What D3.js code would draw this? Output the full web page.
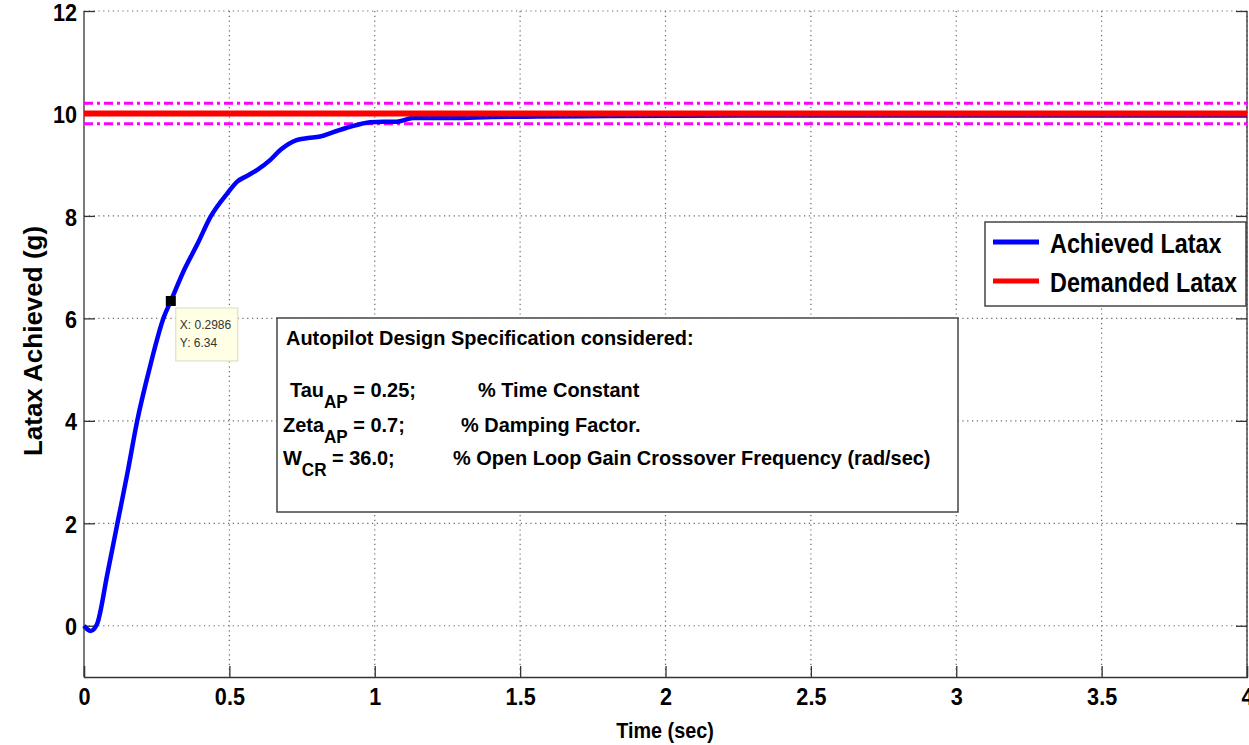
<!DOCTYPE html>
<html><head><meta charset="utf-8">
<script src="https://cdn.jsdelivr.net/npm/d3@7"></script>
<style>
body{margin:0;background:#fff;}
svg{display:block;}
text{font-family:"Liberation Sans",Arial,sans-serif;}
</style></head>
<body><svg id="c" width="1249" height="745"></svg>
<script>
// ---- data ----
const timeVals = [0, 0.012, 0.023, 0.035, 0.046, 0.08, 0.115, 0.15, 0.183, 0.224, 0.275, 0.2986, 0.344, 0.39, 0.436, 0.493, 0.527, 0.56, 0.596, 0.64, 0.676, 0.731, 0.77, 0.812, 0.86, 0.915, 0.984, 1.03, 1.075, 1.132, 1.2, 1.27, 1.4, 1.557, 1.8, 2.5, 3, 4];
const latax    = [0, -0.07, -0.1, -0.06, 0.05, 1.0, 2.0, 3.0, 4.0, 4.99, 6.03, 6.34, 6.94, 7.45, 7.99, 8.44, 8.67, 8.78, 8.90, 9.09, 9.29, 9.48, 9.52, 9.55, 9.64, 9.74, 9.83, 9.84, 9.84, 9.91, 9.91, 9.91, 9.93, 9.94, 9.95, 9.96, 9.96, 9.96];
const demanded = 10;
const tolerance = [10.2, 9.8];
const xTicks = [0, 0.5, 1, 1.5, 2, 2.5, 3, 3.5, 4];
const xTickLabels = ["0", "0.5", "1", "1.5", "2", "2.5", "3", "3.5", "4"];
const yTicks = [0, 2, 4, 6, 8, 10, 12];
const yTickLabels = ["0", "2", "4", "6", "8", "10", "12"];
const legendLabels = ["Achieved Latax", "Demanded Latax"];
const legendColors = ["#0000ff", "#ff0000"];
const datatip = {x: 0.2986, y: 6.34, label: ["X: 0.2986", "Y: 6.34"]};
const specTitle = "Autopilot Design Specification considered:";
const specRows = [
  {name: "Tau", sub: "AP", val: " = 0.25;", comment: "% Time Constant"},
  {name: "Zeta", sub: "AP", val: " = 0.7;", comment: "% Damping Factor."},
  {name: "W", sub: "CR", val: " = 36.0;", comment: "% Open Loop Gain Crossover Frequency (rad/sec)"}
];

// ---- layout ----
const L = 84, R = 1247, T = 11, B = 677;
const svg = d3.select("#c");
const x = d3.scaleLinear().domain([0, 4]).range([L, R]);
const y = d3.scaleLinear().domain([-1, 12]).range([B, T]);

// condensed bold text helper
function ntext(parent, px, py, size, sx, str, anchor) {
  return parent.append("text")
    .attr("transform", `translate(${px},${py}) scale(${sx},1)`)
    .attr("font-weight", "bold").attr("font-size", size)
    .attr("text-anchor", anchor || "start").attr("fill", "#000").text(str);
}

// grid
const grid = svg.append("g").attr("stroke", "#666").attr("stroke-width", 1.2).attr("stroke-dasharray", "1.2,3.6");
grid.selectAll(".gx").data(xTicks.slice(1)).join("line")
  .attr("x1", d => x(d)).attr("x2", d => x(d)).attr("y1", T).attr("y2", B);
grid.selectAll(".gy").data(yTicks).join("line")
  .attr("y1", d => y(d)).attr("y2", d => y(d)).attr("x1", L).attr("x2", R);

// axes
const TS = 0.9;
const axL = svg.append("g").attr("transform", `translate(${L},0)`)
  .call(d3.axisLeft(y).tickValues(yTicks).tickSize(-11).tickFormat((d,i)=>yTickLabels[i]));
const axB = svg.append("g").attr("transform", `translate(0,${B})`)
  .call(d3.axisBottom(x).tickValues(xTicks).tickSize(-11).tickPadding(11).tickFormat((d,i)=>xTickLabels[i]));
const axR = svg.append("g").attr("transform", `translate(${R},0)`)
  .call(d3.axisRight(y).tickValues(yTicks).tickSize(-11).tickFormat(""));
[axL, axB, axR].forEach(a => {
  a.select(".domain").attr("stroke", "#333").attr("stroke-width", 1.3);
  a.selectAll(".tick line").attr("stroke", "#333").attr("stroke-width", 1.3);
  a.selectAll("text").attr("font-family", "Liberation Sans, Arial, sans-serif")
    .attr("font-weight", "bold").attr("font-size", 24).attr("fill", "#000");
});
axB.selectAll("text").attr("transform", `scale(${TS},1)`);
axL.selectAll("text").attr("x", -7 / TS).attr("dy", "0.38em").attr("transform", `scale(${TS},1)`);
axL.select(".domain").attr("d", `M0,${T}V${B}`);
axR.select(".domain").attr("d", `M0,${T}V${B}`);

// tolerance lines
svg.selectAll(".tol").data(tolerance).join("line")
  .attr("x1", x(0)).attr("x2", x(4)).attr("y1", d => y(d)).attr("y2", d => y(d))
  .attr("stroke", "#ff00ff").attr("stroke-width", 3).attr("stroke-dasharray", "9,4,3,4");

// achieved
const line = d3.line().x((d,i) => x(timeVals[i])).y(d => y(d)).curve(d3.curveMonotoneX);
svg.append("path").attr("d", line(latax)).attr("fill", "none")
  .attr("stroke", "#0000ff").attr("stroke-width", 4.5).attr("stroke-linejoin", "round");

// demanded
svg.append("line").attr("x1", x(0)).attr("x2", x(4)).attr("y1", y(demanded)).attr("y2", y(demanded))
  .attr("stroke", "#ff0000").attr("stroke-width", 6);

// axis titles
svg.append("text").attr("transform", `translate(42,341) rotate(-90)`)
  .attr("text-anchor", "middle").attr("font-weight", "bold").attr("font-size", 26).text("Latax Achieved (g)");
ntext(svg, 665, 738, 22, 0.9, "Time (sec)", "middle");

// spec box
const sb = svg.append("g");
sb.append("rect").attr("x", 277).attr("y", 318).attr("width", 681).attr("height", 194)
  .attr("fill", "#fff").attr("stroke", "#444").attr("stroke-width", 1.5);
const SF = 21, SX = 0.95;
ntext(sb, 286, 345, SF, SX, specTitle);
const rowY = [397, 432, 465];
const rowX = [290, 283, 283];
const comX = [478, 461, 453];
specRows.forEach((r, i) => {
  const t = ntext(sb, rowX[i], rowY[i], SF, SX, null);
  t.append("tspan").text(r.name);
  t.append("tspan").attr("dy", 11).attr("font-size", 18).text(r.sub);
  t.append("tspan").attr("dy", -11).text(r.val);
  ntext(sb, comX[i], rowY[i], SF, SX, r.comment);
});

// legend
const lg = svg.append("g");
lg.append("rect").attr("x", 985).attr("y", 222).attr("width", 261).attr("height", 84)
  .attr("fill", "#fff").attr("stroke", "#444").attr("stroke-width", 1.5);
legendLabels.forEach((s, i) => {
  const yy = 242 + i * 39;
  lg.append("line").attr("x1", 993).attr("x2", 1039).attr("y1", yy).attr("y2", yy)
    .attr("stroke", legendColors[i]).attr("stroke-width", 5);
  ntext(lg, 1050, yy + 11, 28, 0.835, s);
});

// datatip
const dt = svg.append("g");
dt.append("rect").attr("x", x(datatip.x) + 5).attr("y", y(datatip.y) + 7).attr("width", 62).attr("height", 53)
  .attr("fill", "#ffffe6").attr("stroke", "#d8d8c0").attr("stroke-width", 1);
datatip.label.forEach((s, i) => {
  dt.append("text").attr("x", x(datatip.x) + 9).attr("y", y(datatip.y) + 28 + i * 18)
    .attr("font-size", 12).attr("fill", "#333").text(s);
});
dt.append("rect").attr("x", x(datatip.x) - 5).attr("y", y(datatip.y) - 5).attr("width", 10).attr("height", 10)
  .attr("fill", "#000");
</script></body></html>
